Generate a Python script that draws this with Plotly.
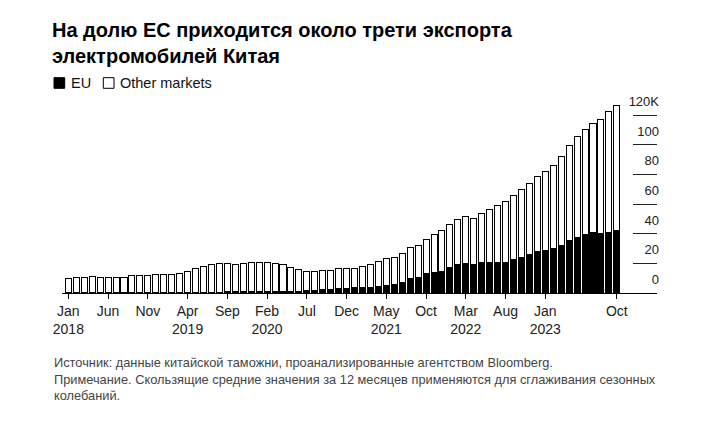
import plotly.graph_objects as go

# Monthly categories, Jan 2018 .. Oct 2023
years = [2018, 2019, 2020, 2021, 2022, 2023]
months = []
for y in years:
    for m in range(1, 13):
        if y == 2023 and m > 10:
            break
        months.append(f"{y}-{m:02d}")

# EU exports (thousands, 12-month moving average)
eu = [0.2, 0.2, 0.2, 0.3, 0.3, 0.3, 0.3, 0.3, 0.3, 0.4, 0.4, 0.4,
      0.4, 0.4, 0.5, 0.5, 0.5, 0.6, 0.6, 0.6, 0.7, 0.7, 0.8, 0.8,
      0.9, 0.9, 1.0, 1.0, 1.1, 1.2, 1.6, 2.0, 2.3, 2.5, 3.2, 3.2,
      3.4, 3.4, 3.9, 4.5, 5.2, 5.9, 7.0, 9.7, 10.6, 12.9, 14.0, 14.7,
      16.9, 19.4, 19.6, 19.2, 20.3, 20.7, 20.7, 20.7, 22.3, 23.8, 25.9, 27.7,
      28.9, 30.0, 32.0, 35.4, 37.4, 39.5, 41.0, 40.3, 41.0, 42.4]

# Other markets (thousands)
other = [9.3, 10.2, 10.2, 10.7, 10.1, 10.1, 10.1, 10.2, 11.2, 11.5, 11.5, 11.8,
         12.2, 12.2, 12.8, 13.9, 15.7, 17.2, 18.8, 19.0, 18.9, 18.7, 19.2, 19.9,
         20.0, 19.8, 18.8, 17.9, 16.0, 14.8, 13.1, 12.2, 12.6, 13.0, 13.0, 13.0,
         12.8, 14.6, 15.0, 16.7, 17.8, 18.2, 19.4, 20.7, 21.4, 23.4, 25.7, 27.2,
         29.3, 30.4, 31.8, 31.1, 33.3, 35.9, 38.3, 41.1, 43.2, 45.8, 48.2, 51.2,
         53.1, 56.1, 60.2, 64.4, 68.3, 70.9, 73.2, 76.9, 81.6, 84.4]

x_tickvals = ["2018-01", "2018-06", "2018-11", "2019-04", "2019-09", "2020-02",
              "2020-07", "2020-12", "2021-05", "2021-10", "2022-03", "2022-08",
              "2023-01", "2023-10"]
x_ticktext = ["Jan<br>2018", "Jun", "Nov", "Apr<br>2019", "Sep", "Feb<br>2020",
              "Jul", "Dec", "May<br>2021", "Oct", "Mar<br>2022", "Aug",
              "Jan<br>2023", "Oct"]

y_tickvals = [0, 20, 40, 60, 80, 100, 120]
y_ticktext = ["0", "20", "40", "60", "80", "100", "120K"]

legend_names = ["EU", "Other markets"]
legend_fills = ["#000000", "#ffffff"]

title_text = "На долю ЕС приходится около трети экспорта<br>электромобилей Китая"
source_text = ("Источник: данные китайской таможни, проанализированные агентством Bloomberg.<br>"
               "Примечание. Скользящие средние значения за 12 месяцев применяются для сглаживания сезонных<br>"
               "колебаний.")

FONT = "Liberation Sans, Arial, sans-serif"

W, H = 714, 427
OFF = 8  # page body margin
L, R = 62 - OFF, 657 - OFF
T, B = 88 - OFF, 292.7 - OFF
PX_PER_K = 1.48


def px(sx):
    return (sx - OFF - L) / (R - L)


def py(sy):
    return (B - (sy - OFF)) / (B - T)


fig = go.Figure()
fig.add_trace(go.Bar(x=months, y=eu, name=legend_names[0],
                     marker=dict(color=legend_fills[0], line=dict(color="#000000", width=1)),
                     width=0.76))
fig.add_trace(go.Bar(x=months, y=other, name=legend_names[1],
                     marker=dict(color=legend_fills[1], line=dict(color="#000000", width=1)),
                     width=0.76))

# legend drawn as squares + labels
shapes = []
annotations = []
leg_sq_x = [54, 103.3]
leg_txt_x = [70, 119]
for i, name in enumerate(legend_names):
    shapes.append(dict(type="rect", xref="paper", yref="paper",
                       x0=px(leg_sq_x[i]), x1=px(leg_sq_x[i] + 10.7),
                       y0=py(88.3), y1=py(77.7),
                       fillcolor=legend_fills[i], line=dict(color="#000000", width=1)))
    annotations.append(dict(text=name, xref="paper", yref="paper",
                            x=px(leg_txt_x[i]), y=py(83.3), xanchor="left", yanchor="middle",
                            showarrow=False, borderpad=0,
                            font=dict(family=FONT, size=14.5, color="#111111")))

annotations.append(dict(text=source_text, xref="paper", yref="paper",
                        x=px(53), y=py(354), xanchor="left", yanchor="top", align="left",
                        showarrow=False, borderpad=0,
                        font=dict(family=FONT, size=12.8, color="#444444")))

fig.update_layout(
    width=W, height=H,
    barmode="stack",
    plot_bgcolor="white", paper_bgcolor="white",
    margin=dict(l=L, r=W - R, t=T, b=H - B, pad=0),
    font=dict(family=FONT, color="#222222"),
    title=dict(text=title_text, xref="container", yref="container",
               x=44 / W, y=1 - 29 / H, xanchor="left", yanchor="top",
               font=dict(family=FONT, size=20, color="#000000", weight="bold")),
    showlegend=False,
    xaxis=dict(type="category", range=[-0.8, 74.05],
               tickmode="array", tickvals=x_tickvals, ticktext=x_ticktext,
               ticks="outside", ticklen=5, tickcolor="#000000", tickwidth=1,
               showline=True, linecolor="#000000", linewidth=1,
               showgrid=False, zeroline=False,
               tickfont=dict(family=FONT, size=14, color="#222222")),
    yaxis=dict(side="right", range=[0, (B - T) / PX_PER_K],
               tickmode="array", tickvals=y_tickvals, ticktext=y_ticktext,
               ticks="inside", ticklen=24, tickcolor="#222222", tickwidth=1,
               ticklabelposition="inside top", ticklabelstandoff=-5, ticklabelshift=-4,
               showline=False, showgrid=False, zeroline=False,
               tickfont=dict(family=FONT, size=13, color="#222222")),
    shapes=shapes,
    annotations=annotations,
)

fig.write_html("out.html")
